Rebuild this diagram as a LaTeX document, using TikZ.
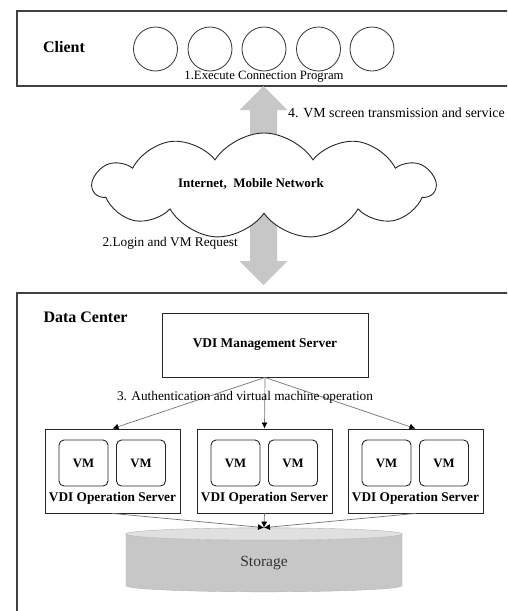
\documentclass[tikz,border=0pt]{standalone}
\usepackage{fontspec}
\setmainfont{Liberation Serif}
\usetikzlibrary{shapes.symbols,shapes.geometric,arrows.meta}

\tikzset{
  txt/.style={font=\fontsize{13.3}{16}\selectfont, inner sep=1pt},
  head/.style={font=\bfseries\fontsize{16}{19}\selectfont, inner sep=1pt},
  frame/.style={draw=black!75, line width=1.1pt},
  user/.style={circle, draw=black!80, line width=0.8pt, minimum size=44pt, inner sep=0pt},
  box/.style={draw=black!85, line width=0.9pt, inner sep=0pt,
    font=\bfseries\fontsize{13.4}{16}\selectfont},
  vm/.style={box, rounded corners=5pt, minimum width=49pt, minimum height=46pt,
    font=\bfseries\fontsize{12.8}{15}\selectfont},
  link/.style={draw=black!55, line width=0.7pt, -{Latex[length=6pt,width=6pt,color=black]}},
  bigarrow/.style={fill=black!22}
}

\begin{document}
\begin{tikzpicture}[x=1pt,y=-1pt]
  \clip (0,0) rectangle (507,611);
  \fill[white] (0,0) rectangle (507,611);

  % client side
  \node[frame, minimum width=503pt, minimum height=75pt] (client) at (268.5,48.5) {};
  \node[head] (clientlbl) at (64,47) {Client};
  \foreach \i/\x in {1/155.5,2/210,3/264,4/318.5,5/372}
    \node[user] (u\i) at (\x,49) {};
  \node[txt, font=\fontsize{12.7}{15}\selectfont] (step1) at (264,77)
    {1.Execute Connection Program};

  % network
  \coordinate (up) at (263.5,86);
  \fill[bigarrow] (up) -- ++(24,24) -- ++(-10.5,0) -- ++(0,151) -- ++(10.5,0)
    -- ++(-24,24) -- ++(-24,-24) -- ++(10.5,0) -- ++(0,-151) -- ++(-10.5,0) -- cycle;
  \node[cloud, cloud puffs=11, cloud puff arc=115, aspect=3.2, draw=black!85,
    line width=0.9pt, fill=white, minimum width=342pt, minimum height=106pt]
    (net) at (264,186) {};
  \node[font=\bfseries\fontsize{13}{15}\selectfont] (netlbl) at (251,184)
    {Internet,\ \ Mobile Network};
  \node[txt, font=\fontsize{13.9}{16}\selectfont, anchor=west] (step4) at (287,113)
    {4. VM screen transmission and service};
  \node[txt, anchor=east] (step2) at (239,243) {2.Login and VM Request};

  % data center
  \node[frame, minimum width=503pt, minimum height=327pt] (dc) at (268.5,456.5) {};
  \node[head] (dclbl) at (85.5,317) {Data Center};
  \node[box, minimum width=206pt, minimum height=64pt] (mgmt) at (265,345)
    {VDI Management Server};
  \foreach \i/\x in {1/112.5,2/264.5,3/415.5} {
    \node[box, minimum width=135pt, minimum height=84pt] (op\i) at (\x,471) {};
    \node[vm] (vma\i) at (\x-29,463) {VM};
    \node[vm] (vmb\i) at (\x+28.5,463) {VM};
    \node[font=\bfseries\fontsize{13.3}{16}\selectfont, inner sep=0pt] (oplbl\i)
      at (\x,498) {VDI Operation Server};
  }
  \node[cylinder, shape border rotate=90, aspect=0.26, draw=black!30,
    cylinder uses custom fill, cylinder body fill=black!22, cylinder end fill=black!12,
    minimum width=276pt, minimum height=64pt, inner sep=0pt,
    font=\fontsize{15.5}{18}\selectfont, text=black!80] (storage) at (264,563) {Storage};

  \foreach \i in {1,2,3} {
    \draw[link] (mgmt.south) -- (op\i.north);
    \draw[link] (op\i.south) -- (storage.top);
  }
  \node[txt] (step3) at (245,397) {3. Authentication and virtual machine operation};
\end{tikzpicture}
\end{document}
